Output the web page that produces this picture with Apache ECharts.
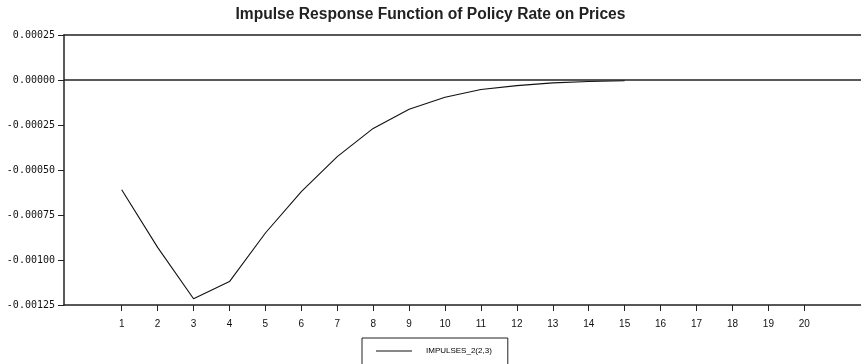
<!DOCTYPE html>
<html>
<head>
<meta charset="utf-8">
<script src="https://cdn.jsdelivr.net/npm/echarts@6/dist/echarts.min.js"></script>
<style>
  html, body { margin: 0; padding: 0; background: #fff; }
  #chart { width: 861px; height: 364px; }
</style>
</head>
<body>
<div id="chart"></div>
<script>
// Response horizons (periods after the shock)
const periods = [1, 2, 3, 4, 5, 6, 7, 8, 9, 10, 11, 12, 13, 14, 15];
// Impulse response of prices to a policy-rate shock
const impulses = [-0.00061, -0.00093, -0.001215, -0.00112, -0.00085, -0.00062, -0.000426, -0.000269,
                  -0.000163, -0.000096, -0.000053, -0.000031, -0.000016, -0.000008, -0.000004];
// Horizon tick labels shown along the bottom axis
const xTicks = [1, 2, 3, 4, 5, 6, 7, 8, 9, 10, 11, 12, 13, 14, 15, 16, 17, 18, 19, 20];
// Vertical axis tick values
const yTicks = [0.00025, 0, -0.00025, -0.0005, -0.00075, -0.001, -0.00125];

const seriesName = 'IMPULSES_2(2,3)';
const ink = '#222';
const font = '"Liberation Sans", Arial, sans-serif';

const chart = echarts.init(document.getElementById('chart'), null, { renderer: 'canvas' });

chart.setOption({
  animation: false,
  backgroundColor: '#fff',
  title: {
    text: 'Impulse Response Function of Policy Rate on Prices',
    left: 'center',
    top: 2,
    textStyle: { fontFamily: font, fontSize: 15.6, fontWeight: 'bold', color: '#222' }
  },
  legend: {
    data: [seriesName],
    left: 362,
    top: 338,
    orient: 'horizontal',
    borderColor: '#222',
    borderWidth: 1,
    padding: [9, 16, 10, 14],
    icon: 'rect',
    itemWidth: 36,
    itemHeight: 1,
    itemStyle: { color: '#111' },
    textStyle: {
      fontFamily: '"Liberation Sans Narrow", "Liberation Sans", Arial, sans-serif',
      fontSize: 8, color: '#000', padding: [0, 0, 0, 9]
    }
  },
  grid: { left: 64, right: 0, top: 35, bottom: 59 },
  xAxis: [
    {
      type: 'value',
      min: -0.606,
      max: 21.578,
      position: 'bottom',
      axisLine: { show: true, onZero: false, lineStyle: { color: ink, width: 1.5 } },
      axisTick: { show: true, customValues: xTicks, length: 6, lineStyle: { color: ink, width: 1 } },
      axisLabel: {
        show: true, customValues: xTicks, margin: 14,
        fontFamily: font, fontSize: 10, color: '#111'
      },
      splitLine: { show: false }
    },
    {
      type: 'value',
      min: -0.606,
      max: 21.578,
      position: 'top',
      axisLine: { show: true, onZero: false, lineStyle: { color: ink, width: 1.5 } },
      axisTick: { show: false },
      axisLabel: { show: false },
      splitLine: { show: false }
    }
  ],
  yAxis: {
    type: 'value',
    min: -0.00125,
    max: 0.00025,
    interval: 0.00025,
    axisLine: { show: true, onZero: false, lineStyle: { color: ink, width: 1.5 } },
    axisTick: { show: true, customValues: yTicks, length: 6, lineStyle: { color: ink, width: 1 } },
    axisLabel: {
      show: true, customValues: yTicks, margin: 9,
      fontFamily: '"DejaVu Sans Mono", monospace', fontSize: 10, color: '#111',
      formatter: v => (Math.abs(v) < 1e-12 ? 0 : v).toFixed(5)
    },
    splitLine: { show: false }
  },
  series: [
    {
      name: seriesName,
      type: 'line',
      xAxisIndex: 0,
      data: periods.map((p, i) => [p, impulses[i]]),
      symbol: 'none',
      lineStyle: { color: '#111', width: 1.1 },
      itemStyle: { color: '#111' },
      z: 3,
      markLine: {
        silent: true,
        symbol: 'none',
        label: { show: false },
        lineStyle: { color: ink, width: 1.5, type: 'solid' },
        data: [{ yAxis: 0 }]
      }
    }
  ]
});
</script>
</body>
</html>
